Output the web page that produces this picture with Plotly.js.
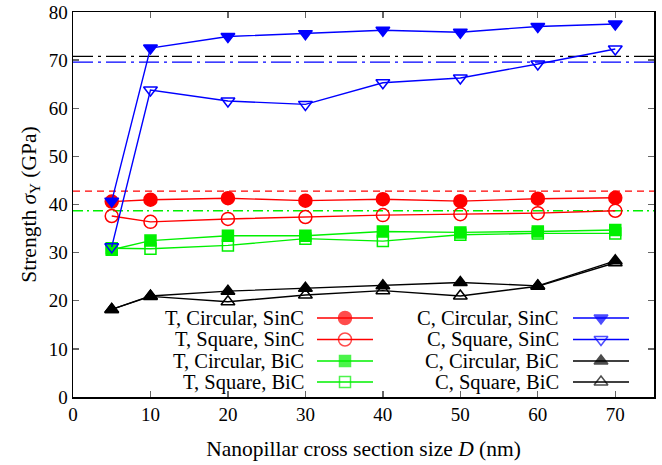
<!DOCTYPE html>
<html>
<head>
<meta charset="utf-8">
<script src="https://cdn.plot.ly/plotly-3.0.1.min.js"></script>
<style>html,body{margin:0;padding:0;background:#fff;}#chart{width:662px;height:465px;}</style>
</head>
<body>
<div id="chart"></div>
<script>
// ---- data ----
const sizes = [5, 10, 20, 30, 40, 50, 60, 70];
const T_Circ_SinC = [40.6, 41.0, 41.3, 40.8, 41.1, 40.7, 41.2, 41.4];
const T_Sq_SinC   = [37.6, 36.4, 37.0, 37.4, 37.8, 38.0, 38.2, 38.7];
const T_Circ_BiC  = [30.6, 32.5, 33.5, 33.5, 34.4, 34.2, 34.4, 34.7];
const T_Sq_BiC    = [30.9, 30.8, 31.5, 32.9, 32.4, 33.7, 34.0, 34.0];
const C_Circ_SinC = [40.7, 72.5, 74.9, 75.5, 76.2, 75.8, 77.0, 77.5];
const C_Sq_SinC   = [31.2, 63.8, 61.5, 60.8, 65.3, 66.3, 69.2, 72.3];
const C_Circ_BiC  = [18.2, 21.0, 22.0, 22.6, 23.1, 23.8, 23.1, 28.3];
const C_Sq_BiC    = [18.2, 20.9, 19.8, 21.2, 22.1, 21.0, 23.0, 27.9];
// reference levels (horizontal lines)
const refSpan = [0, 75];
const ref_T_SinC = 42.8;
const ref_T_BiC = 38.7;
const ref_C_SinC = 69.6;
const ref_C_BiC = 70.8;
const legendLabelsLeft = ["T, Circular, SinC", "T, Square, SinC", "T, Circular, BiC", "T, Square, BiC"];
const legendLabelsRight = ["C, Circular, SinC", "C, Square, SinC", "C, Circular, BiC", "C, Square, BiC"];

const RED = '#ff0000', GREEN = '#00f000', BLUE = '#0000ff', BLACK = '#000000';
const FONT = '"Liberation Serif", "DejaVu Serif", serif';

const series = [
  {y: T_Circ_SinC, color: RED, sym: 'circle', msize: 13},
  {y: T_Sq_SinC, color: RED, sym: 'circle-open', msize: 13},
  {y: T_Circ_BiC, color: GREEN, sym: 'square', msize: 11},
  {y: T_Sq_BiC, color: GREEN, sym: 'square-open', msize: 11},
  {y: C_Circ_SinC, color: BLUE, sym: 'triangle-down', msize: 12},
  {y: C_Sq_SinC, color: BLUE, sym: 'triangle-down-open', msize: 12},
  {y: C_Circ_BiC, color: BLACK, sym: 'triangle-up', msize: 12},
  {y: C_Sq_BiC, color: BLACK, sym: 'triangle-up-open', msize: 12}
];

const traces = [];
// reference lines
traces.push({x: refSpan, y: [ref_T_SinC, ref_T_SinC], mode: 'lines', line: {color: RED, width: 1.3, dash: '7px,5px'}, showlegend: false, hoverinfo: 'skip'});
traces.push({x: refSpan, y: [ref_T_BiC, ref_T_BiC], mode: 'lines', line: {color: GREEN, width: 1.3, dash: '10px,4px,2px,4px'}, showlegend: false, hoverinfo: 'skip'});
traces.push({x: refSpan, y: [ref_C_BiC, ref_C_BiC], mode: 'lines', line: {color: BLACK, width: 1.3, dash: '20px,5px,3px,5px'}, showlegend: false, hoverinfo: 'skip'});
traces.push({x: refSpan, y: [ref_C_SinC, ref_C_SinC], mode: 'lines', line: {color: BLUE, width: 1.3, dash: '20px,5px,3px,5px'}, showlegend: false, hoverinfo: 'skip'});

series.forEach(s => {
  traces.push({x: sizes, y: s.y, mode: 'lines+markers', cliponaxis: false,
    line: {color: s.color, width: 1.4},
    marker: {symbol: s.sym, size: s.msize, color: s.color, line: {color: s.color, width: 1.5}},
    showlegend: false});
});

// custom legend (symbol to the right of right-aligned text), drawn on a pixel-space overlay axis
const L = {left: 73, right: 654, top: 12, bottom: 397};
const rowsY = [318, 339.5, 361, 382];
const cols = [{textX: 305, x0: 317, x1: 373, labels: legendLabelsLeft, offset: 0},
              {textX: 560, x0: 573, x1: 629, labels: legendLabelsRight, offset: 4}];
const annotations = [];
cols.forEach(c => {
  c.labels.forEach((lab, i) => {
    const s = series[c.offset + i];
    const xm = (c.x0 + c.x1) / 2;
    traces.push({x: [c.x0, xm, c.x1], y: [rowsY[i], rowsY[i], rowsY[i]], xaxis: 'x2', yaxis: 'y2',
      mode: 'lines+markers', line: {color: s.color, width: 1.4},
      marker: {symbol: s.sym, size: [0, s.msize, 0], color: s.color, line: {color: s.color, width: 1.5}},
      showlegend: false, hoverinfo: 'skip'});
    annotations.push({x: c.textX, y: rowsY[i], xref: 'x2', yref: 'y2', text: lab, showarrow: false,
      xanchor: 'right', yanchor: 'middle', borderpad: 0, font: {family: FONT, size: 20.5, color: '#000'}});
  });
});

const axisCommon = {
  showgrid: false, zeroline: false, showline: true, linecolor: '#000', linewidth: 1.5,
  mirror: 'allticks', ticks: 'inside', ticklen: 6, tickwidth: 1.3, tickcolor: '#666',
  tickfont: {family: FONT, size: 19, color: '#000'}
};

const layout = {
  width: 662, height: 465,
  margin: {l: L.left, r: 662 - L.right, t: L.top, b: 465 - L.bottom},
  paper_bgcolor: '#fff', plot_bgcolor: '#fff',
  showlegend: false,
  font: {family: FONT},
  xaxis: Object.assign({}, axisCommon, {range: [0, 75], dtick: 10, tick0: 0,
    title: {text: 'Nanopillar cross section size <i>D</i> (nm)', font: {family: FONT, size: 21.5, color: '#000'}, standoff: 16}}),
  yaxis: Object.assign({}, axisCommon, {range: [0, 80], dtick: 10, tick0: 0,
    title: {text: 'Strength <i>σ</i><sub>Y</sub> (GPa)', font: {family: FONT, size: 21.5, color: '#000'}, standoff: 6}}),
  xaxis2: {overlaying: 'x', range: [L.left, L.right], visible: false, fixedrange: true},
  yaxis2: {overlaying: 'y', range: [L.bottom, L.top], visible: false, fixedrange: true},
  annotations: annotations
};

Plotly.newPlot('chart', traces, layout, {displayModeBar: false, staticPlot: true});
</script>
</body>
</html>
